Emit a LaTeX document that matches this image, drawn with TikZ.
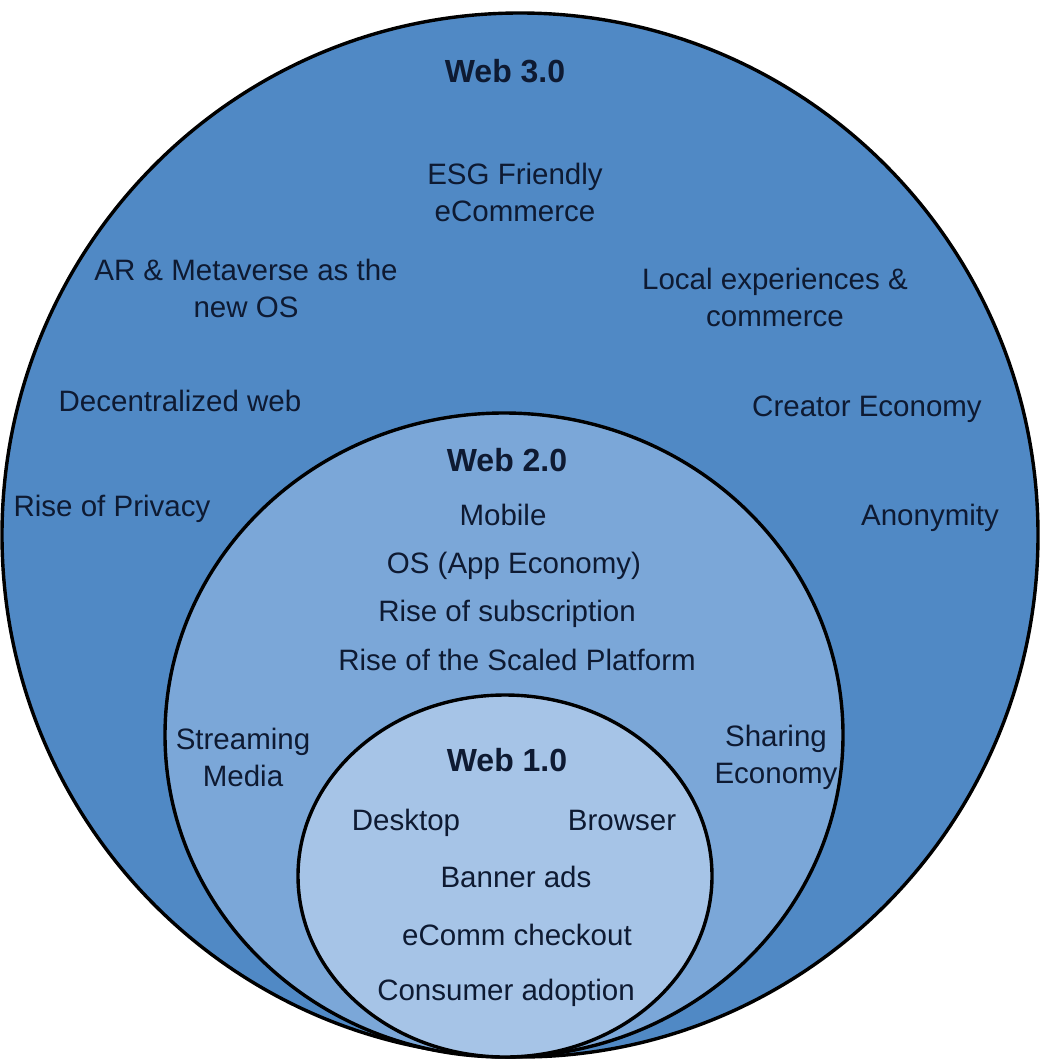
\documentclass[tikz,border=0pt]{standalone}
\usepackage{fontspec}
\setmainfont{Liberation Sans}
\definecolor{ringthree}{RGB}{80,137,197}
\definecolor{ringtwo}{RGB}{123,167,216}
\definecolor{ringone}{RGB}{166,196,231}
\definecolor{inktext}{RGB}{14,26,50}
\tikzset{
  ring/.style={draw=black, line width=3.4pt},
  label/.style={text=inktext, inner sep=0pt, align=center,
    font=\fontsize{29.5}{37}\selectfont},
  oneline/.style={label, text height=0.72em, text depth=0.21em},
  heading/.style={oneline, font=\fontsize{32}{38}\selectfont\bfseries},
}
\begin{document}
\begin{tikzpicture}[x=1pt, y=-1pt]
  \useasboundingbox (0,0) rectangle (1039,1062);
  \fill[white] (0,0) rectangle (1039,1062);

  % nested eras, all touching at the bottom
  \draw[ring, fill=ringthree] (520,535) ellipse [x radius=518, y radius=522];
  \draw[ring, fill=ringtwo]   (504,735) ellipse [x radius=339, y radius=322];
  \draw[ring, fill=ringone]   (505,876) ellipse [x radius=207, y radius=181];

  % Web 3.0
  \node[heading] (w3) at (505,80) {Web 3.0};
  \node[label] (esg) at (515,192) {ESG Friendly\\eCommerce};
  \node[label] (ar) at (246,288) {AR \& Metaverse as the\\new OS};
  \node[label] (local) at (775,297) {Local experiences \&\\commerce};
  \node[oneline] (dec) at (180,409) {Decentralized web};
  \node[oneline] (creator) at (867,414) {Creator Economy};
  \node[oneline] (priv) at (112,514) {Rise of Privacy};
  \node[oneline] (anon) at (930,523) {Anonymity};

  % Web 2.0
  \node[heading] (w2) at (507,469) {Web 2.0};
  \node[oneline] (mobile) at (503,523) {Mobile};
  \node[oneline] (os) at (514,571) {OS (App Economy)};
  \node[oneline] (sub) at (507,619) {Rise of subscription};
  \node[oneline] (scaled) at (517,668) {Rise of the Scaled Platform};
  \node[label] (stream) at (243,757) {Streaming\\Media};
  \node[label] (share) at (776,757) {Sharing\\Economy};

  % Web 1.0
  \node[heading] (w1) at (507,769) {Web 1.0};
  \node[oneline] (desk) at (406,828) {Desktop};
  \node[oneline] (browser) at (622,828) {Browser};
  \node[oneline] (banner) at (516,885) {Banner ads};
  \node[oneline] (checkout) at (517,943) {eComm checkout};
  \node[oneline] (consumer) at (506,998) {Consumer adoption};
\end{tikzpicture}
\end{document}
